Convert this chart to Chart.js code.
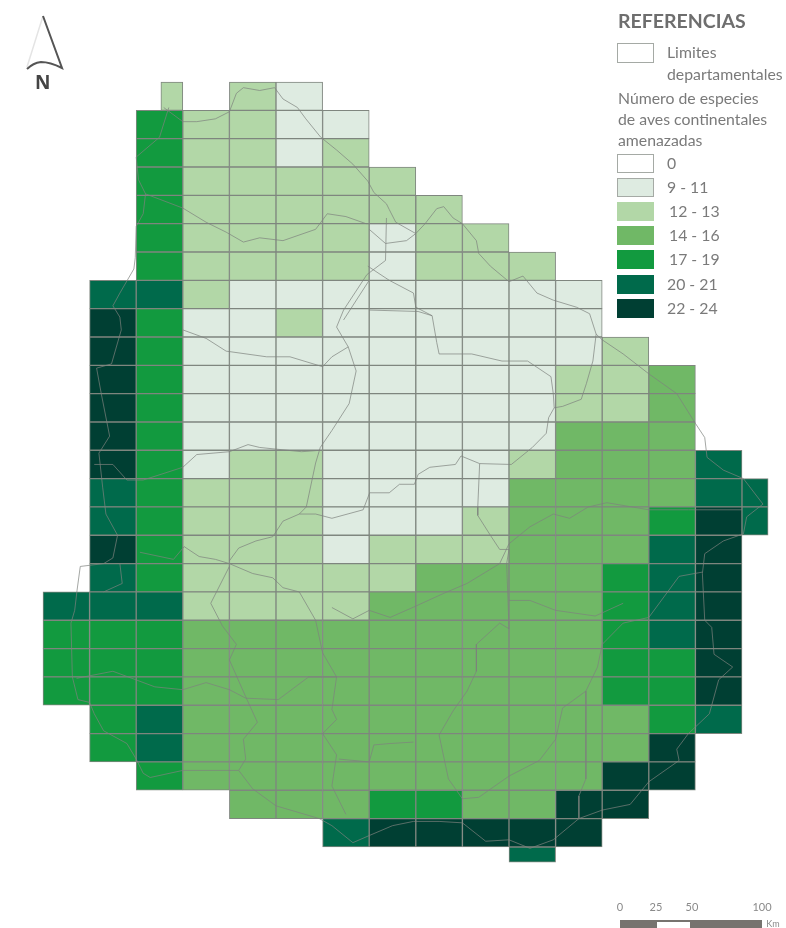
<!DOCTYPE html>
<html lang="es">
<head>
<meta charset="utf-8">
<title>Referencias</title>
<script src="https://cdn.jsdelivr.net/npm/chart.js@4"></script>
<style>
  html, body { margin: 0; padding: 0; background: #fff; }
  #page { position: relative; width: 786px; height: 928px; overflow: hidden; font-family: Lato, sans-serif; color: #7a7a7a; }
  canvas { position: absolute; left: 0; top: 0; }
  .txt { position: absolute; font-size: 15.8px; line-height: 16px; white-space: nowrap; }
  .swatch { position: absolute; left: 617px; width: 35px; height: 17px; border: 1px solid #a5aaa5; box-sizing: content-box; }
  .bar { position: absolute; height: 8px; }
  .num { position: absolute; top: 900px; font-size: 11px; line-height: 14px; color: #8a8a8a; transform: translateX(-50%); }
</style>
</head>
<body>
<div id="page">
  <canvas id="map" width="786" height="928"></canvas>
  <svg style="position:absolute;left:0;top:0" width="90" height="100">
    <path d="M43 16 L27 67" stroke="#e4e4e4" stroke-width="1.5" fill="none"/>
    <path d="M43 16 L62 68 Q50 62 41 62 Q33 63 27 69" stroke="#555" stroke-width="2" fill="none"/>
  </svg>
  <div class="txt" style="left:35px;top:71px;font:bold 19px/22px 'Open Sans',sans-serif;color:#444">N</div>
  <div class="txt" style="left:618px;top:12px;font-size:19.5px;line-height:18px;font-weight:bold;color:#6e6e6e">REFERENCIAS</div>
  <div id="legend"></div>
  <div id="scale"></div>
</div>
<script>
// species class of every grid cell, one string per row from north to south
// . = no cell, 1 = 9-11, 2 = 12-13, 3 = 14-16, 4 = 17-19, 5 = 20-21, 6 = 22-24
const gridRows = [
  '..2.21',
  '..42211',
  '..42212',
  '..422222',
  '..4222222',
  '..42222122',
  '..422221222',
  '.55211111111',
  '.64112111111',
  '.641111111112',
  '.6411111111223',
  '.6411111111223',
  '.6411111111333',
  '.64122111123335',
  '.542221111333355',
  '.542221112333465',
  '.64222122233356',
  '.54222223333456',
  '555222233333456',
  '444333333333456',
  '444333333333446',
  '444333333333446',
  '.45333333333345',
  '.4533333333336',
  '..433333333366',
  '....333443366',
  '......566666',
];

// cut cells on the edge of the map, in grid columns
const cutCells = [
  { row: 0, col: 2, from: 2.53, to: 3 },
  { row: 14, col: 15, from: 15, to: 15.56 },
  { row: 15, col: 15, from: 15, to: 15.56 },
];

// the short strip under the last full row
const stripCell = { row: 27.27, from: 10, to: 11, cls: 5 };

const classLabels = ['0', '9 - 11', '12 - 13', '14 - 16', '17 - 19', '20 - 21', '22 - 24'];
const classColors = ['#ffffff', '#deebe1', '#b2d7a7', '#70b866', '#129a3f', '#006a4b', '#003f33'];

// departmental limits as [column, row]
const northBorder = [[2.59,0.9],[3,1.4],[3.3,1.4],[3.7,1.3],[4,1.05],[4.15,0.4],[4.3,0.2],[4.65,0.3],[4.97,0.2],[5.15,0.6],[5.46,0.9],[5.64,1.3],[5.96,1.95],[6.3,2.4],[6.65,2.9],[6.97,3.5],[7.1,3.9],[7.37,4.3],[7.43,4.5],[7.57,4.95],[8,5.35],[8.2,5],[8.45,4.47],[8.6,4.4],[8.8,4.8],[9,5],[9.3,5.6],[9.35,6.05],[9.6,6.5],[10,7.05],[10.3,6.85],[10.6,7.45],[10.95,7.7],[11.45,7.95],[11.73,8.18],[11.87,8.9],[11.8,9.85],[11.66,10.65],[11.55,11.2],[11.15,11.45],[10.97,11.5],[10.85,11.85],[10.8,12.4],[10.5,12.9],[10.05,13.5],[9.37,13.47],[8.97,13.2],[8.85,13.5],[8.3,13.6],[8.05,13.85],[7.97,14.2],[7.65,14.2],[7.43,14.5],[7.01,14.5],[6.87,15.1],[6.2,15.4],[5.85,15.25],[5.5,15.25],[5.15,15.5],[4.93,16.05],[4.57,16.2],[4.2,16.45],[4,16.9]];
const westBorder = [[2.7,0.9],[2.5,1.95],[2,2.65],[2.05,3.45],[2.2,3.95],[2.15,4.65],[2,5.1],[1.98,6.2],[1.95,6.6],[1.65,7.45],[1.5,7.9],[1.65,8.3],[1.68,8.75],[1.47,9.95],[1.15,10.1],[1.25,11],[1.43,12.5],[1.2,13.1],[1.28,14.3],[1.35,15.25],[1.6,16],[1.5,16.8],[1.3,17],[0.8,17.1],[0.73,17.95],[0.68,18.65],[0.6,19.1],[0.63,21],[0.75,21.8],[1,21.9],[1.1,22.3],[1.3,22.9],[1.8,23.35],[2,23.9],[2.15,24.4],[2.3,24.55],[3,24.3],[4.2,24.3],[4.5,24.95],[5,25.55],[5.93,26],[6.2,26.25],[6.65,26.85],[7,26.6],[7.5,26.25],[7.95,26.1],[8.5,26.1],[9,26.15],[9.5,26.8],[10,26.75],[10.45,27.05],[10.95,26.75],[11.5,26],[12,25.7],[12.6,25.5],[13,24.7],[13.65,23.95],[13.6,23.55],[13.85,23],[14.3,22.3],[14.5,21.1],[14.8,20.65],[14.4,20.2],[14.35,19.25],[14.2,19],[14.15,17.35],[14.2,16.65],[14.6,16.2],[15.03,15.95],[15.1,15.35],[15.45,14.9],[15.03,14],[14.6,13.7],[14.25,13.25],[14.2,12.55],[14,12.05],[13.6,11],[13,10.3],[12.45,9.6],[12,9.1],[11.87,8.9]];
const eastLimit = [[15,15.1],[13.85,15.1],[13,15.1],[12.1,14.85],[11.7,15],[11.3,15.4],[10.95,15.25],[10.45,15.7],[10,16.3],[9.8,17],[9.1,17.7],[8.6,18.05],[8,18.5],[7.45,18.9],[7,18.65],[6.65,18.95],[6.2,18.55]];
const centerLimit = [[9.37,13.47],[9.33,15],[9.33,15.3],[9.6,16],[9.8,16.5],[10,16.5],[9.95,17],[10,19.3],[9.8,19.1],[9.3,19.85],[9.3,20.8],[9.1,21.5],[8.8,22.2],[8.5,23.05],[8.7,24.6],[9,25.3],[9.35,25.25],[10,24.5],[10.65,23.95],[11,23.2],[11.15,22.1],[11.65,21.5],[11.9,20.65],[12,19.85],[12.45,19.1],[13,18.9],[13.65,17.45],[14.15,17.3]];
const southLimit = [[11.65,21.5],[11.65,24],[11.65,24.6],[11.5,25.2],[11.5,26]];
const riverLimit = [[10,18.3],[10.45,18.3],[11,18.65],[11.85,18.85],[12.45,18.4]];
const midWest = [[2.08,16.6],[2.8,16.85],[3.03,16.4],[3.35,16.75],[3.7,16.85],[4,17],[4.5,17.35],[4.93,17.5],[5.15,17.85],[5.5,18],[5.85,19],[6,20.15],[6.3,21],[6.2,22.15],[6.3,22.5],[6,23],[6.3,23.75],[6.2,24.85],[6.5,25.85]];
const cross = [[4,17.1],[3.6,18.4],[3.85,19.2],[4.15,19.85],[4,20.4],[4.35,21.7],[4.6,22.6],[4.3,23.2],[4.35,23.9],[4.2,24.3]];
const soriano = [[0.72,21.05],[1.5,20.8],[2.4,21.35],[3,21.45],[3.5,21.2],[4,21.45],[4.35,21.75],[5.05,21.8],[5.7,21],[6.3,21]];
const colonia = [[6.35,23.9],[7,24],[7.1,23.4],[7.45,23.35],[7.95,23.3]];
const tacuarembo = [[3,8.75],[3.5,9.05],[3.93,9.5],[4.8,9.7],[5.3,9.7],[6,10.05],[6.2,9.7],[6.55,9.35],[6.3,8.65],[6.45,8.05],[6.95,6.8],[7.35,6.3],[7.37,4.8]];
const durazno = [[6.55,9.35],[6.72,10.2],[6.57,11.35],[6.2,12.3],[5.95,12.9],[5.85,13.45],[5.65,15],[5.5,15.25]];
const rioNegro = [[5.95,13],[5.55,13.05],[4.65,12.9],[4.4,12.8],[4,13.05],[3.3,13.15],[3,13.6],[2.15,14.05],[1.8,14.05],[1.5,13.5],[1.1,13.5]];
const artigas = [[3,4.45],[3.5,4.95],[3.93,5.3],[4.3,5.65],[4.65,5.5],[5.15,5.6],[5.85,5.2],[6.1,4.65],[6.5,4.75],[6.93,5],[7.4,5]];
const artigasWest = [[3,4.45],[2.2,3.95]];
const rivera = [[7,5.2],[7.35,5.7],[7.8,5.6],[8,5.35]];
const treinta = [[6.97,6.5],[7.43,7],[7.95,7.45],[8,7.95],[8.35,8.25],[8.45,9.2],[8.5,9.6],[9.2,9.6],[9.85,9.85],[10.4,9.85],[10.9,10.4],[10.95,11],[10.97,11.5]];
const cerroLargo = [[7,7],[6.45,8.4]];
const paysandu = [[7,8.05],[8.05,8.1],[8.35,8.25]];
const westStub = [[1.65,17],[1.7,17.7],[1.3,18]];
const limits = [northBorder, westBorder, eastLimit, centerLimit, southLimit, riverLimit, midWest, cross, soriano, colonia, tacuarembo, durazno, rioNegro, artigas, artigasWest, rivera, treinta, cerroLargo, paysandu, westStub];

const scaleTicks = [0, 25, 50, 100];

// size of one grid cell and where the grid starts on the page
const cellW = 46.6, cellH = 28.33, gridLeft = 43, gridTop = 82;

// full cells and cut cells become one list of floating bars
const cells = [];
gridRows.forEach((line, row) => {
  [...line].forEach((ch, col) => {
    if (ch === '.') return;
    const cut = cutCells.find(c => c.row === row && c.col === col);
    cells.push({ y: row + 0.5, x: cut ? [cut.from, cut.to] : [col, col + 1], cls: +ch });
  });
});

const cellColor = ctx => (ctx.raw ? classColors[ctx.raw.cls] : '#fff');

new Chart(document.getElementById('map').getContext('2d'), {
  data: {
    datasets: [
      {
        type: 'bar', label: 'Celdas', indexAxis: 'y', data: cells, order: 3, grouped: false,
        barThickness: cellH, backgroundColor: cellColor, borderColor: '#7f867f', borderWidth: 1, borderSkipped: false,
      },
      {
        type: 'bar', label: 'Franja', indexAxis: 'y', order: 2, grouped: false,
        data: [{ y: stripCell.row, x: [stripCell.from, stripCell.to], cls: stripCell.cls }],
        barThickness: 15, backgroundColor: cellColor, borderColor: '#7f867f', borderWidth: 1, borderSkipped: false,
      },
      ...limits.map(line => ({
        type: 'line', label: 'Limites departamentales', order: 1,
        data: line.map(p => ({ x: p[0], y: p[1] })),
        borderColor: 'rgba(125,130,125,0.7)', borderWidth: 1, pointRadius: 0, fill: false, tension: 0,
      })),
    ],
  },
  options: {
    responsive: false,
    animation: false,
    layout: { padding: 0 },
    plugins: { legend: { display: false }, tooltip: { enabled: false } },
    scales: {
      x: { type: 'linear', display: false, offset: false, min: -gridLeft / cellW, max: (786 - gridLeft) / cellW },
      y: { type: 'linear', display: false, offset: false, reverse: true, min: -gridTop / cellH, max: (928 - gridTop) / cellH },
    },
  },
});

// legend on the right of the map
const page = document.getElementById('legend');
function addText(text, left, top) {
  const d = document.createElement('div');
  d.className = 'txt';
  d.textContent = text;
  d.style.left = left + 'px';
  d.style.top = top + 'px';
  page.appendChild(d);
}
addText('Limites', 667, 44);
addText('departamentales', 667, 66);
addText('Número de especies', 618, 90);
addText('de aves continentales', 618, 111);
addText('amenazadas', 618, 132);

const limitBox = document.createElement('div');
limitBox.className = 'swatch';
limitBox.style.top = '43px';
limitBox.style.height = '18px';
page.appendChild(limitBox);

classLabels.forEach((label, i) => {
  const top = 154 + i * 24.1;
  const box = document.createElement('div');
  box.className = 'swatch';
  box.style.top = top + 'px';
  box.style.background = classColors[i];
  if (i > 1) box.style.borderColor = classColors[i];
  page.appendChild(box);
  addText(label, i > 1 && i < 5 ? 669 : 667, top + 1);
});

// scale bar at the bottom right
const scaleBox = document.getElementById('scale');
[[620, 920, 142, 8, '#77736f'], [657, 922, 33, 6, '#ffffff']].forEach(s => {
  const d = document.createElement('div');
  d.className = 'bar';
  d.style.left = s[0] + 'px';
  d.style.top = s[1] + 'px';
  d.style.width = s[2] + 'px';
  d.style.height = s[3] + 'px';
  d.style.background = s[4];
  scaleBox.appendChild(d);
});
scaleTicks.forEach((t, i) => {
  const d = document.createElement('div');
  d.className = 'num';
  d.textContent = t;
  d.style.left = [620, 656, 692, 762][i] + 'px';
  scaleBox.appendChild(d);
});
const km = document.createElement('div');
km.className = 'num';
km.textContent = 'Km';
km.style.cssText = 'left:773px;top:917px;font-size:9px';
scaleBox.appendChild(km);
</script>
</body>
</html>
